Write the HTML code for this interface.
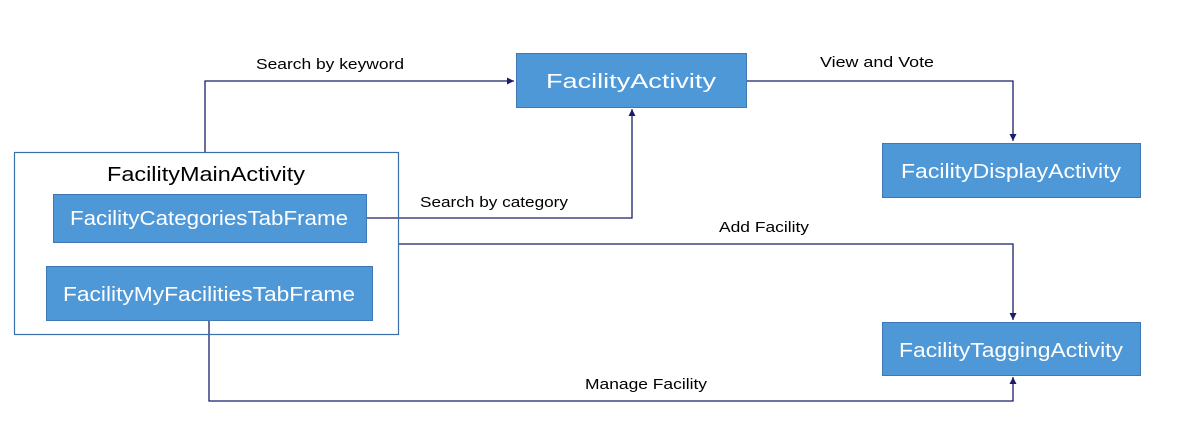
<!DOCTYPE html>
<html><head><style>
body{margin:0;background:#fff;width:1199px;height:426px;overflow:hidden;font-family:"Liberation Sans",sans-serif}
</style></head><body>
<svg width="1199" height="426" xmlns="http://www.w3.org/2000/svg" font-family="Liberation Sans, sans-serif">
<defs><marker id="a" markerWidth="8" markerHeight="8" refX="7" refY="4" orient="auto" markerUnits="userSpaceOnUse"><path d="M0,0.5 L7,4 L0,7.5z" fill="#1a1f6b"/></marker></defs>
<g fill="none" stroke="#1a1f6b" stroke-width="1.3">
<polyline points="205,152 205,81 514,81" marker-end="url(#a)"/>
<polyline points="366,218 632,218 632,109" marker-end="url(#a)"/>
<polyline points="746,81 1013,81 1013,141" marker-end="url(#a)"/>
<polyline points="398,244 1013,244 1013,320" marker-end="url(#a)"/>
<polyline points="209,320 209,401 1013,401 1013,377" marker-end="url(#a)"/>
</g>
<rect x="14.5" y="152.5" width="384" height="182" fill="none" stroke="#3a6fa8" stroke-width="1.2"/>
<g fill="#4e98d8" stroke="#3f78b4" stroke-width="1">
<rect x="516.5" y="53.5" width="230" height="54"/>
<rect x="882.5" y="143.5" width="258" height="54"/>
<rect x="882.5" y="322.5" width="258" height="53"/>
<rect x="53.5" y="194.5" width="313" height="48"/>
<rect x="46.5" y="266.5" width="326" height="54"/>
</g>
<g fill="#fff" font-size="20" text-anchor="middle" textLength="">
<text x="631" y="88" textLength="170" lengthAdjust="spacingAndGlyphs">FacilityActivity</text>
<text x="1011" y="178" textLength="220" lengthAdjust="spacingAndGlyphs">FacilityDisplayActivity</text>
<text x="1011" y="357" textLength="224" lengthAdjust="spacingAndGlyphs">FacilityTaggingActivity</text>
<text x="209" y="225" textLength="278" lengthAdjust="spacingAndGlyphs">FacilityCategoriesTabFrame</text>
<text x="209" y="301" textLength="292" lengthAdjust="spacingAndGlyphs">FacilityMyFacilitiesTabFrame</text>
</g>
<text x="206" y="181" font-size="20" text-anchor="middle" fill="#000" textLength="198" lengthAdjust="spacingAndGlyphs">FacilityMainActivity</text>
<g fill="#000" font-size="15" text-anchor="middle">
<text x="330" y="69" textLength="148" lengthAdjust="spacingAndGlyphs">Search by keyword</text>
<text x="877" y="67" textLength="114" lengthAdjust="spacingAndGlyphs">View and Vote</text>
<text x="494" y="207" textLength="148" lengthAdjust="spacingAndGlyphs">Search by category</text>
<text x="764" y="232" textLength="90" lengthAdjust="spacingAndGlyphs">Add Facility</text>
<text x="646" y="389" textLength="122" lengthAdjust="spacingAndGlyphs">Manage Facility</text>
</g>
</svg>
</body></html>
